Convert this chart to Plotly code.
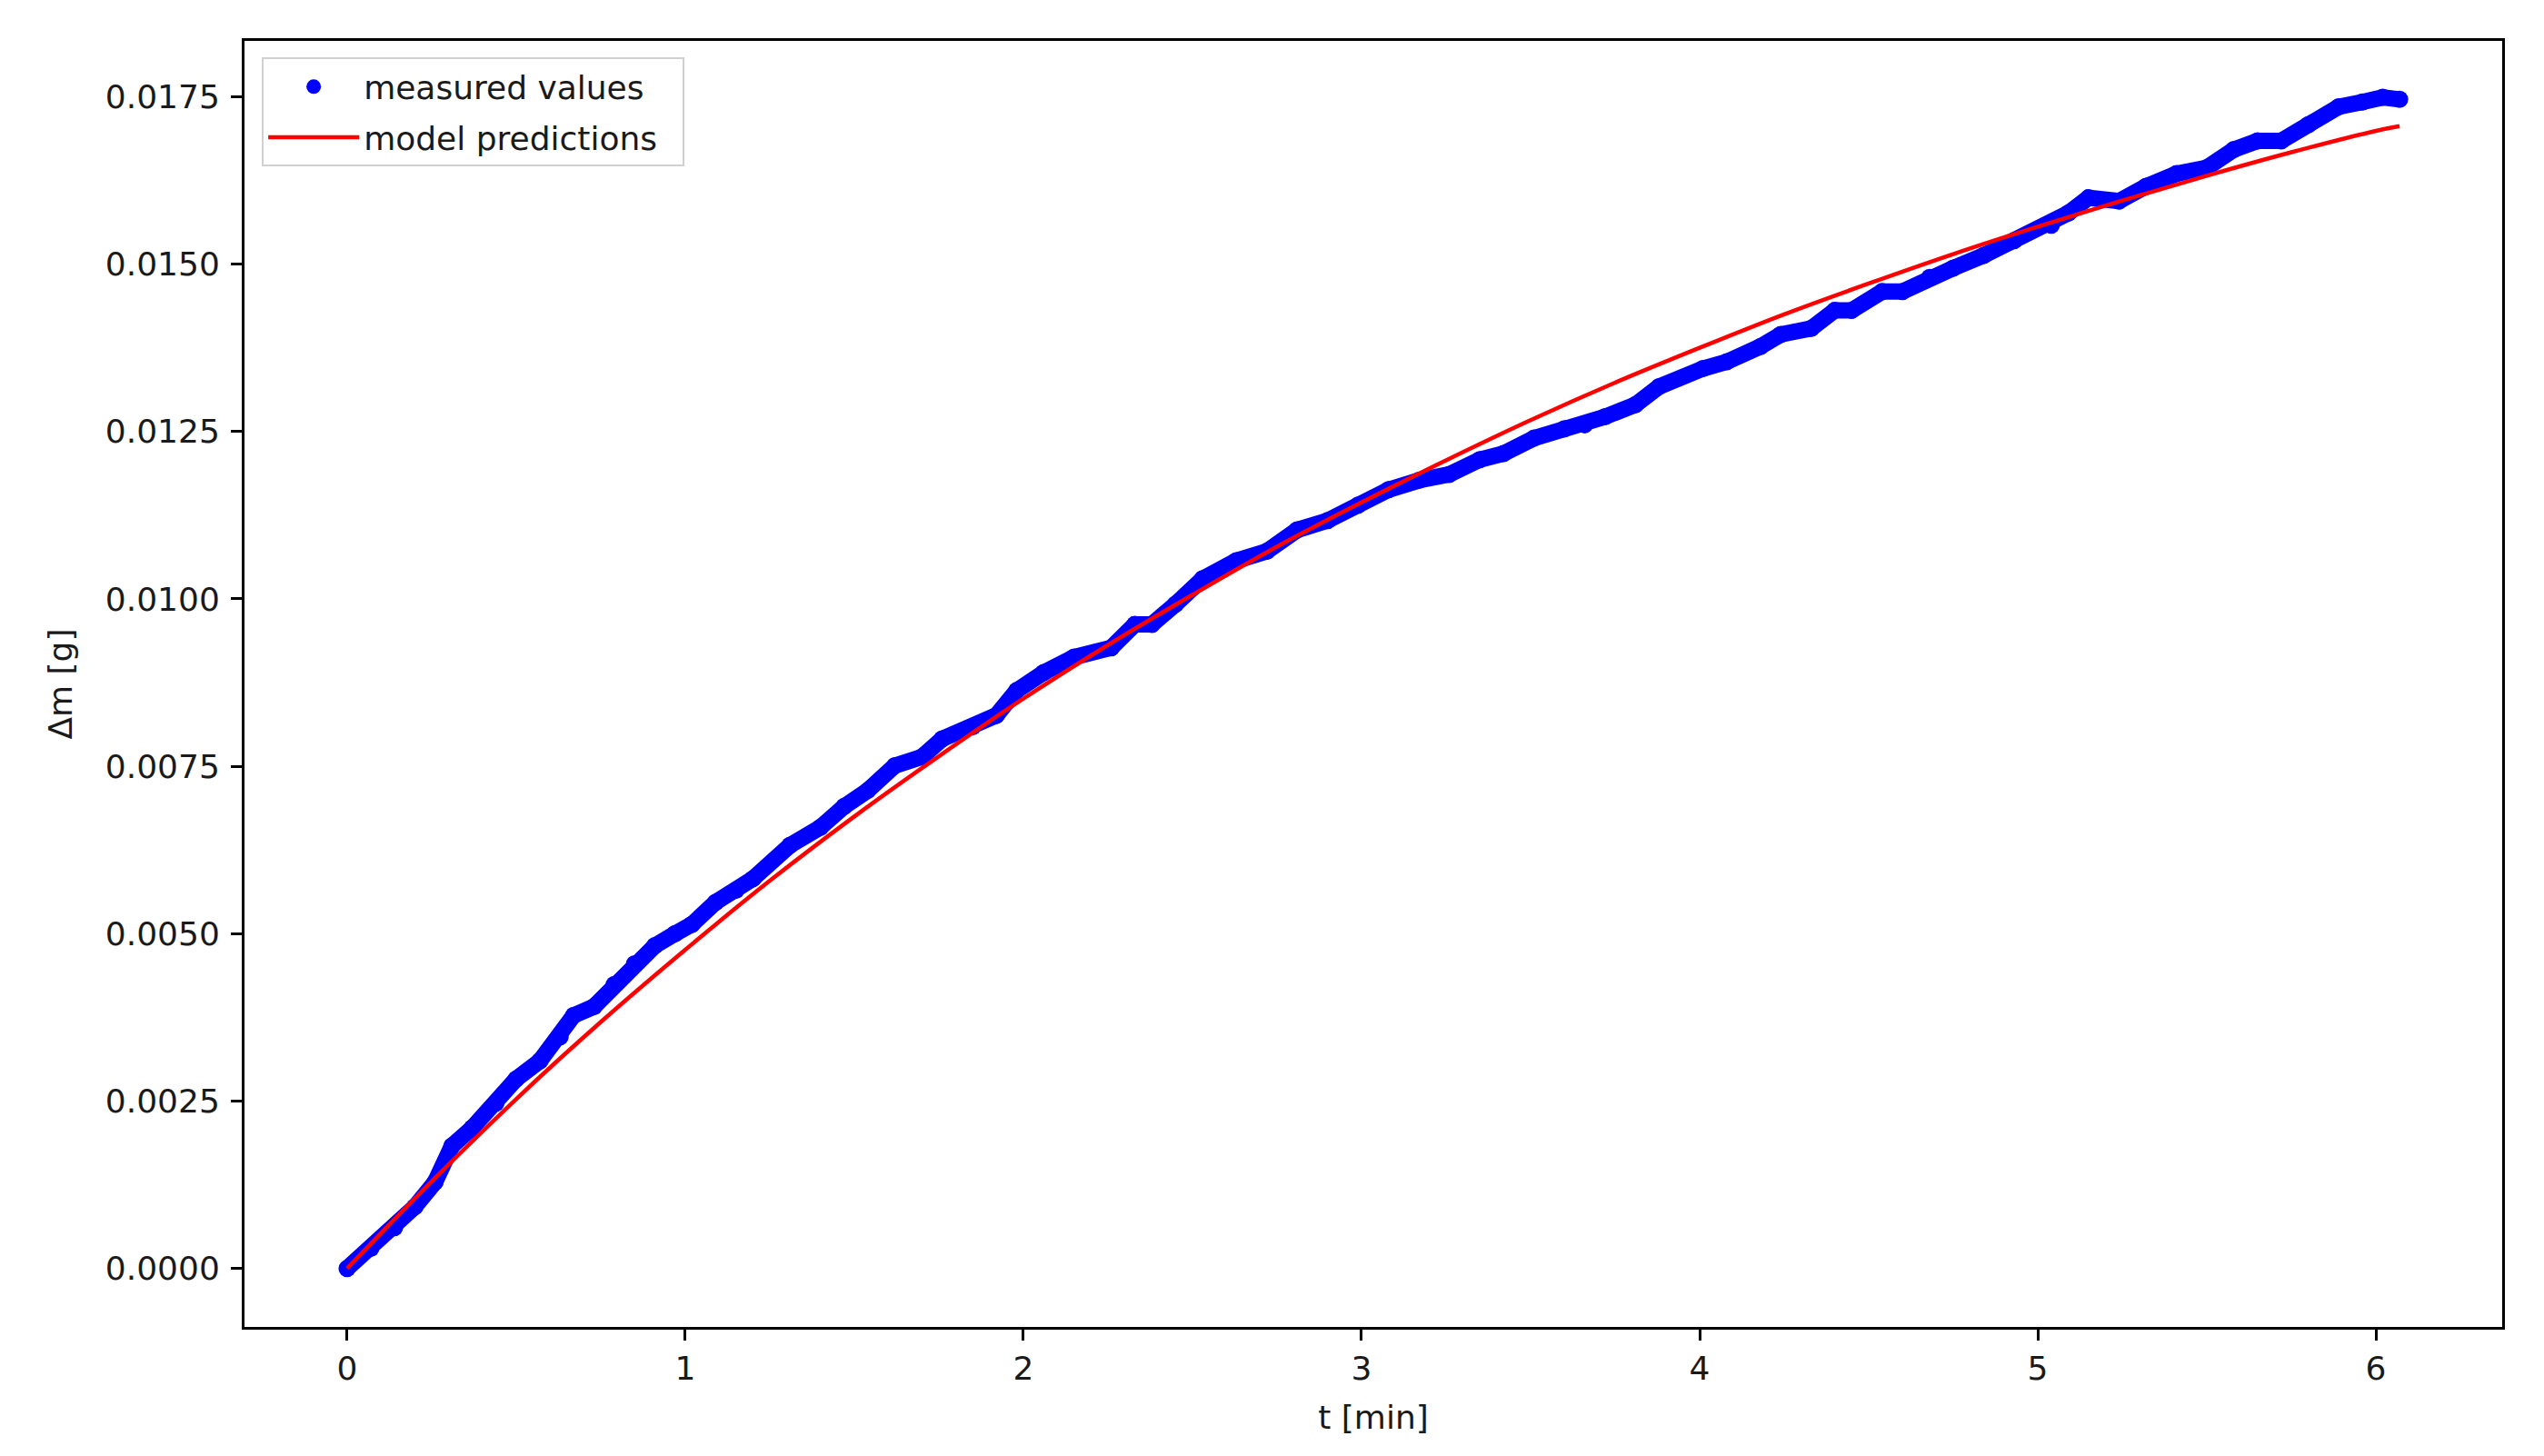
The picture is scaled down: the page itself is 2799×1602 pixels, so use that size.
"""
Mass change over time: measured values vs. model predictions.
"""

import plotly.graph_objects as go

t_measured = [
    0.00, 0.07, 0.14, 0.20, 0.26, 0.31, 0.37, 0.44, 0.50, 0.57,
    0.63, 0.67, 0.73, 0.79, 0.85, 0.91, 0.97, 1.02, 1.09, 1.15,
    1.20, 1.31, 1.40, 1.47, 1.54, 1.62, 1.70, 1.76, 1.85, 1.92,
    1.98, 2.06, 2.15, 2.26, 2.33, 2.38, 2.45, 2.53, 2.63, 2.72,
    2.81, 2.90, 2.99, 3.08, 3.17, 3.26, 3.35, 3.42, 3.51, 3.60,
    3.66, 3.72, 3.81, 3.88, 4.01, 4.08, 4.18, 4.24, 4.33, 4.40,
    4.45, 4.54, 4.60, 4.68, 4.75, 4.84, 4.93, 5.04, 5.09, 5.15,
    5.24, 5.32, 5.41, 5.50, 5.58, 5.65, 5.72, 5.80, 5.89, 5.96,
    6.02, 6.07,
]
dm_measured = [
    0.00000, 0.00030, 0.00061, 0.00092, 0.00129, 0.00183, 0.00210, 0.00247, 0.00283, 0.00310,
    0.00346, 0.00378, 0.00391, 0.00424, 0.00455, 0.00482, 0.00500, 0.00514, 0.00547, 0.00565,
    0.00582, 0.00632, 0.00659, 0.00690, 0.00714, 0.00751, 0.00764, 0.00791, 0.00809, 0.00826,
    0.00863, 0.00890, 0.00913, 0.00927, 0.00962, 0.00962, 0.00992, 0.01030, 0.01057, 0.01071,
    0.01103, 0.01117, 0.01140, 0.01163, 0.01177, 0.01186, 0.01208, 0.01217, 0.01240, 0.01254,
    0.01260, 0.01272, 0.01290, 0.01317, 0.01344, 0.01354, 0.01377, 0.01395, 0.01404, 0.01431,
    0.01431, 0.01459, 0.01459, 0.01480, 0.01494, 0.01513, 0.01535, 0.01558, 0.01576, 0.01599,
    0.01594, 0.01616, 0.01635, 0.01644, 0.01671, 0.01684, 0.01684, 0.01708, 0.01735, 0.01742,
    0.01749, 0.01746,
]

# model predictions
t_model = [
    0.00, 0.25, 0.50, 0.75, 1.00, 1.25, 1.50, 1.75, 2.00, 2.25,
    2.50, 2.75, 3.00, 3.25, 3.50, 3.75, 4.00, 4.25, 4.50, 4.75,
    5.00, 5.25, 5.50, 5.75, 6.00, 6.07,
]
dm_model = [
    0.00000, 0.00130, 0.00253, 0.00368, 0.00476, 0.00579, 0.00675, 0.00765, 0.00851, 0.00931,
    0.01006, 0.01078, 0.01144, 0.01207, 0.01267, 0.01323, 0.01375, 0.01425, 0.01471, 0.01515,
    0.01556, 0.01595, 0.01632, 0.01667, 0.01699, 0.01706,
]

y_ticks = [0.0, 0.0025, 0.005, 0.0075, 0.01, 0.0125, 0.015, 0.0175]

FONT = dict(family="DejaVu Sans, sans-serif", size=36, color="#1a1a1a")
BLUE = "#0000ff"
RED = "#ff0000"
PAD = "\u00a0\u00a0"  # a little room on the right of the legend box

fig = go.Figure()

# legend entry for the measured points
fig.add_trace(go.Scatter(
    x=[None], y=[None],
    mode="markers",
    marker=dict(color=BLUE, size=17),
    name="measured values" + PAD,
    legendgroup="meas",
))

# dense measured band
fig.add_trace(go.Scatter(
    x=t_measured, y=dm_measured,
    mode="lines+markers",
    line=dict(color=BLUE, width=18),
    marker=dict(color=BLUE, size=19),
    showlegend=False,
    name="measured values",
    legendgroup="meas",
))

fig.add_trace(go.Scatter(
    x=t_model, y=dm_model,
    mode="lines",
    line=dict(color=RED, width=4.5, shape="spline"),
    name="model predictions" + PAD,
    legendgroup="model",
))

axis_common = dict(
    showline=True, linecolor="black", linewidth=3, mirror=True,
    ticks="outside", ticklen=12, tickwidth=2.5, tickcolor="black",
    showgrid=False, zeroline=False,
    tickfont=FONT,
)

fig.update_xaxes(
    range=[-0.3035, 6.3735],
    tickmode="array", tickvals=[0, 1, 2, 3, 4, 5, 6],
    title=dict(text="t [min]", font=FONT, standoff=22),
    ticklabelstandoff=0,
    **axis_common,
)
fig.update_yaxes(
    range=[-0.000873, 0.018333],
    tickmode="array", tickvals=y_ticks,
    ticktext=[f"{v:.4f}" for v in y_ticks],
    title=dict(text="Δm [g]", font=FONT, standoff=26),
    ticklabelstandoff=5,
    **axis_common,
)

fig.update_layout(
    width=2799, height=1602,
    margin=dict(l=269, r=46, t=45, b=142),
    plot_bgcolor="white",
    paper_bgcolor="white",
    font=FONT,
    legend=dict(
        x=0.0077, y=0.987, xanchor="left", yanchor="top",
        bgcolor="white", bordercolor="#d0d0d0", borderwidth=2,
        font=FONT, itemwidth=100,
        traceorder="grouped", tracegroupgap=6,
    ),
)

fig.write_html(
    "out.html",
    config={"displayModeBar": False},
    post_script="document.body.style.margin='0';",
)
